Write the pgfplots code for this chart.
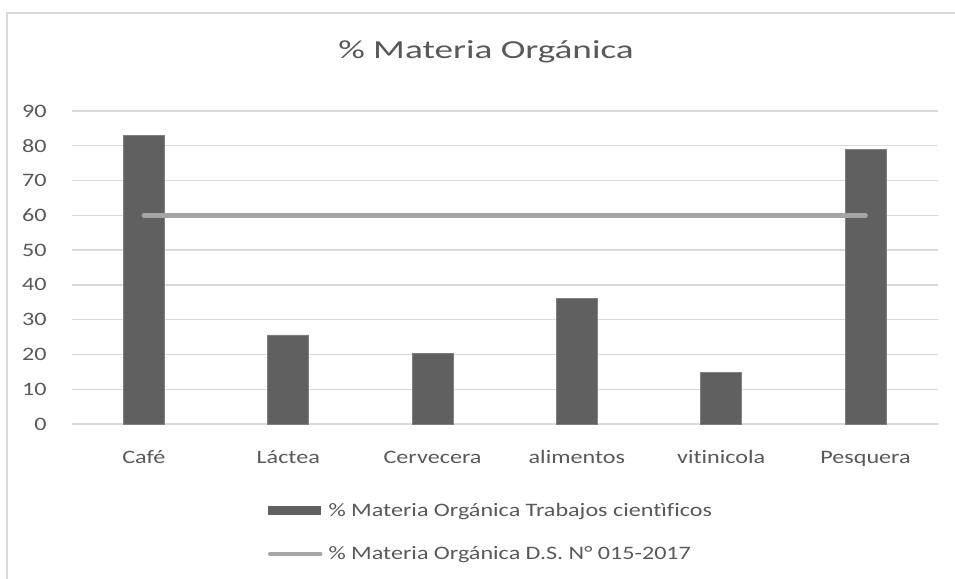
\documentclass[border=0pt]{standalone}
\usepackage{fontspec}
\setmainfont{Carlito}[FakeStretch=1.27, Ligatures=NoCommon]
\newfontfamily\titlefont{Carlito}[FakeStretch=1.43, Ligatures=NoCommon]
\usepackage{pgfplots}
\pgfplotsset{compat=1.18}
\definecolor{txt}{HTML}{595959}
\definecolor{barc}{HTML}{606060}
\definecolor{linec}{HTML}{A5A5A5}
\definecolor{gridc}{HTML}{D9D9D9}
\begin{document}
\begin{tikzpicture}[x=1bp,y=1bp]
\useasboundingbox (0,0) rectangle (955,579);
\fill[white] (0,0) rectangle (955,579);
\draw[gridc, line width=1.2bp] (7,0) -- (7,566) -- (955,566);
\node[txt, font=\titlefont\fontsize{26bp}{30bp}\selectfont, anchor=base] at (486,520) {\% Materia Orgánica};
\begin{axis}[
  at={(71.7bp,155bp)}, anchor=south west,
  scale only axis, width=866bp, height=313bp,
  xmin=-0.5, xmax=5.5, ymin=0, ymax=90,
  ytick={0,10,...,90},
  xtick={0,1,2,3,4,5},
  xticklabels={Café,Láctea,Cervecera,alimentos,vitinicola,Pesquera},
  axis line style={draw=none},
  major tick length=0pt,
  ymajorgrids, grid style={gridc, line width=1.3bp},
  /pgf/number format/assume math mode=true,
  tick label style={txt, font=\fontsize{19bp}{22bp}\selectfont},
  yticklabel style={anchor=east, inner sep=0pt, xshift=-25bp},
  xticklabel style={anchor=base, inner sep=0pt, yshift=-40bp},
  clip=false,
  legend style={draw=none, fill=none, at={(0.483,-0.345)}, anchor=center,
    font=\fontsize{19bp}{22bp}\selectfont, text=txt,
    row sep=29bp, column sep=0bp,
    nodes={inner sep=0pt, anchor=west}},
  legend cell align=left,
  legend columns=1,
]
\addplot[ybar, bar width=0.284, fill=barc, draw=barc!80!white, line width=0.6bp,
  legend image code/.code={\fill[barc] (0bp,-4bp) rectangle (52bp,4bp); \path (58bp,0) ;}]
  coordinates {(0,83) (1,25.6) (2,20.3) (3,36.2) (4,14.8) (5,79)};
\addlegendentry{\% Materia Orgánica Trabajos cientìficos}
\addplot[linec, line width=4.5bp, line cap=round, mark=none,
  legend image code/.code={\draw[linec, line width=4.5bp, line cap=round] (2bp,0) -- (52bp,0); \path (58bp,0);}]
  coordinates {(0,60) (1,60) (2,60) (3,60) (4,60) (5,60)};
\addlegendentry{\% Materia Orgánica D.S. N° 015-2017}
\end{axis}
\end{tikzpicture}
\end{document}
